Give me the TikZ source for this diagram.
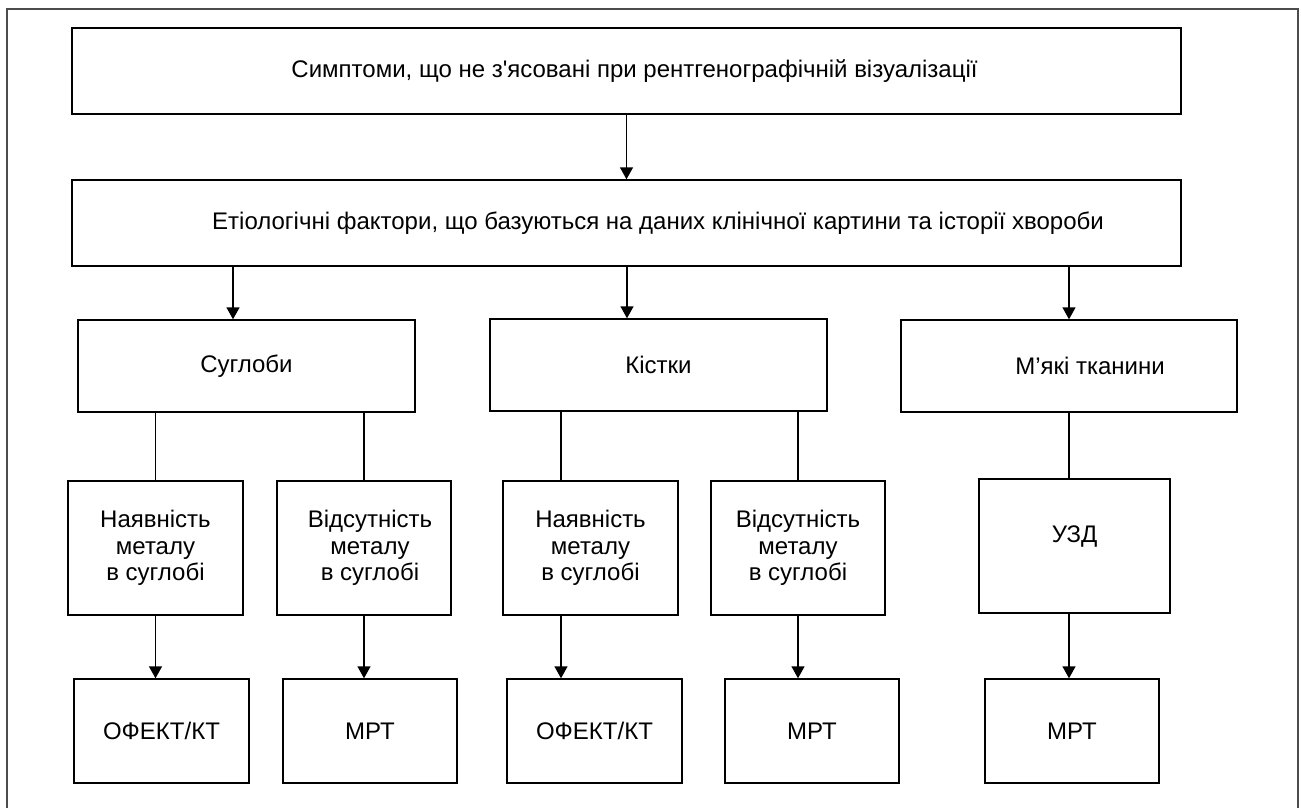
\documentclass[tikz,border=0pt]{standalone}
\usepackage{fontspec}
\setmainfont{Liberation Sans}[Ligatures=TeXOff]
\usetikzlibrary{arrows.meta}
\tikzset{box/.style 2 args={draw, rectangle, line width=0.7pt, inner sep=0pt, align=center, minimum width=#1*0.5pt, minimum height=#2*0.5pt, font=\fontsize{12}{13.3}\selectfont}, arr/.style={-{Triangle[length=6pt,width=6.5pt]}, line width=0.7pt}, ln/.style={line width=0.7pt}}

\begin{document}
\begin{tikzpicture}[x=0.5pt,y=-0.5pt]
    \useasboundingbox (0,0) rectangle (1301,808);
    \draw[line width=1pt, black!70] (7,808) -- (7,9) -- (1298,9) -- (1298,808);
    \node[box={1109}{86}] (sympt) at (626.5,71) {\hspace*{8pt}Симптоми, що не з'ясовані при рентгенографічній візуалізації};
    \node[box={1109}{86}] (etiol) at (626.5,223) {\hspace*{31.5pt}Етіологічні фактори, що базуються на даних клінічної картини та історії хвороби};
    \node[box={337}{92}] (joints) at (246.5,366) {Суглоби};
    \node[box={337}{92}] (bones) at (658.5,365) {Кістки};
    \node[box={336}{92}] (soft) at (1069,366) {\hspace*{21pt}М’які тканини};
    \node[box={175}{134}] (metJ) at (155.5,548) {Наявність\\металу\\в суглобі};
    \node[box={174}{134}] (nometJ) at (364,548) {\hspace*{6pt}Відсутність\\\hspace*{6pt}металу\\\hspace*{6pt}в суглобі};
    \node[box={175}{134}] (metB) at (590.5,548) {Наявність\\металу\\в суглобі};
    \node[box={174}{134}] (nometB) at (798,548) {Відсутність\\металу\\в суглобі};
    \node[box={191}{134}, text depth=12pt] (usd) at (1074.5,546) {УЗД};
    \node[box={175}{104}] (spectJ) at (161.5,731) {ОФЕКТ/КТ};
    \node[box={174}{104}] (mriJ) at (370,731) {МРТ};
    \node[box={175}{104}] (spectB) at (594.5,731) {ОФЕКТ/КТ};
    \node[box={174}{104}] (mriB) at (812,731) {МРТ};
    \node[box={174}{104}] (mriS) at (1072,731) {МРТ};
    \draw[arr] (sympt) -- (etiol);
    \draw[arr] ([xshift=-6.75pt]joints.north |- etiol.south) -- ([xshift=-6.75pt]joints.north);
    \draw[arr] ([xshift=-15.75pt]bones.north |- etiol.south) -- ([xshift=-15.75pt]bones.north);
    \draw[arr] (soft.north |- etiol.south) -- (soft.north);
    \draw[ln] (metJ.north |- joints.south) -- (metJ.north);
    \draw[ln] (nometJ.north |- joints.south) -- (nometJ.north);
    \draw[ln] ([xshift=-14.75pt]metB.north |- bones.south) -- ([xshift=-14.75pt]metB.north);
    \draw[ln] (nometB.north |- bones.south) -- (nometB.north);
    \draw[ln] (soft.south) -- (soft.south |- usd.north);
    \draw[arr] (metJ.south) -- (metJ.south |- spectJ.north);
    \draw[arr] (nometJ.south) -- (nometJ.south |- mriJ.north);
    \draw[arr] ([xshift=-14.75pt]metB.south) -- ([xshift=-14.75pt]metB.south |- spectB.north);
    \draw[arr] (nometB.south) -- (nometB.south |- mriB.north);
    \draw[arr] (soft.south |- usd.south) -- (soft.south |- mriS.north);
\end{tikzpicture}
\end{document}
